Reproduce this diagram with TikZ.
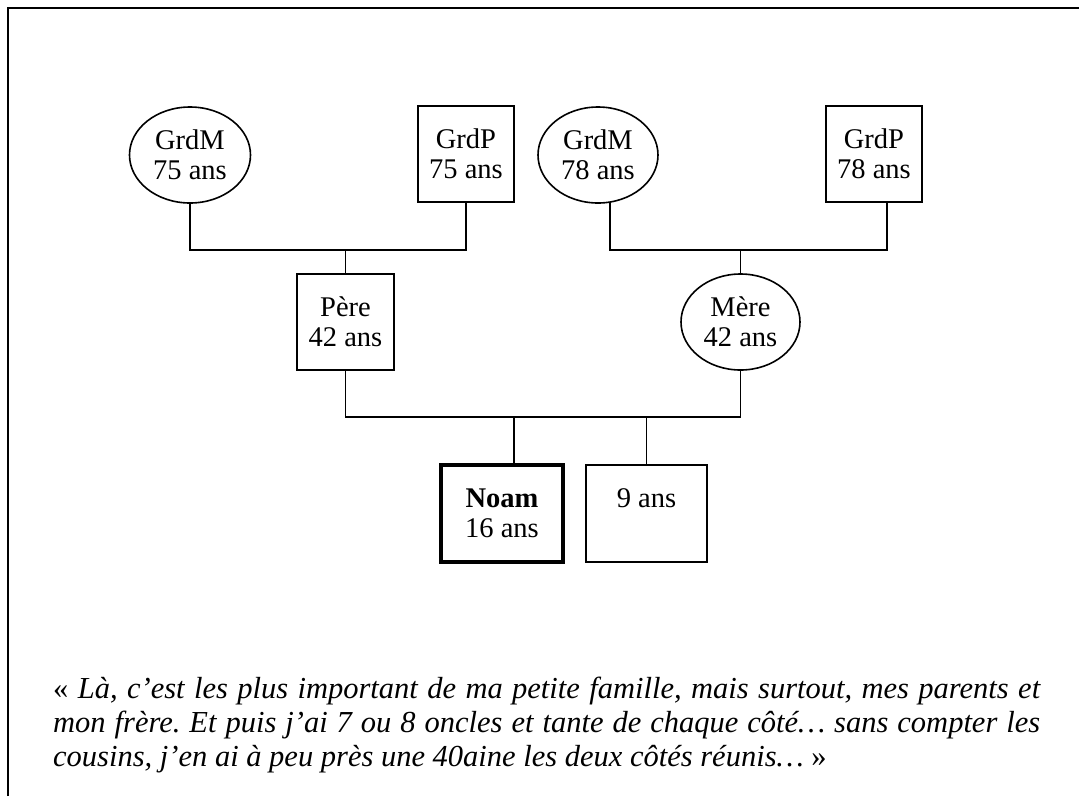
\documentclass[tikz,border=0pt]{standalone}
\usepackage{fontspec}
\setmainfont{Liberation Serif}
\usetikzlibrary{shapes.geometric,calc}
\frenchspacing
\begin{document}
\begin{tikzpicture}[x=1pt,y=-1pt,
  conn/.style={line width=1.6pt},
  person/.style={draw,line width=1.6pt,inner sep=0pt,align=center,font=\fontsize{28.5}{30}\selectfont},
  male/.style={person,rectangle,minimum width=96pt,minimum height=96pt},
  female/.style={person,ellipse,minimum width=121pt,minimum height=96pt},
  quote/.style={anchor=base west,inner sep=0pt,font=\fontsize{30.5}{34}\selectfont\itshape},
]
\useasboundingbox (0,0) rectangle (1079,796);
\draw[line width=2pt] (8,796) -- (8,8) -- (1079,8);

% grandparents
\node[female] (gm1) at (190,155) {GrdM\\75 ans};
\node[male] (gp1) at (466,154) {GrdP\\75 ans};
\node[female,minimum width=120pt] (gm2) at (598,155) {GrdM\\78 ans};
\node[male] (gp2) at (874,154) {GrdP\\78 ans};
% parents
\node[male,minimum width=97pt] (pere) at (345.5,322) {Père\\42 ans};
\node[female,minimum width=119pt] (mere) at (740.5,322) {Mère\\42 ans};
% children
\node[male,minimum width=122pt,minimum height=97pt,line width=3.2pt] (noam) at (502,513.5) {\textbf{Noam}\\16 ans};
\node[male,minimum width=121pt,minimum height=97pt] (frere) at (646.5,513.5) {9 ans\\\phantom{16 ans}};

% bars
\coordinate (bar1) at (0,250);
\coordinate (bar2) at (0,417);
\coordinate (gm2d) at ($(gm2.center)+(12,47)$);
\coordinate (gp2d) at ($(gp2.south)+(13,0)$);
\coordinate (noamu) at ($(noam.north)+(12,0)$);

\draw[conn] (gm1.south) -- (gm1.south |- bar1) -- (gp1.south |- bar1) -- (gp1.south);
\draw[conn] (pere.north |- bar1) -- (pere.north);
\draw[conn] (gm2d) -- (gm2d |- bar1) -- (gp2d |- bar1) -- (gp2d);
\draw[conn] (mere.north |- bar1) -- (mere.north);
\draw[conn] (pere.south) -- (pere.south |- bar2) -- (mere.south |- bar2) -- (mere.south);
\draw[conn] (noamu |- bar2) -- (noamu);
\draw[conn] (frere.north |- bar2) -- (frere.north);

% quote
\node[quote] (q1) at (53,698) {\makebox[987pt][s]{{\upshape«}~Là, c’est les plus important de ma petite famille, mais surtout, mes parents et}};
\node[quote] (q2) at (53,732) {\makebox[987pt][s]{mon frère. Et puis j’ai 7 ou 8 oncles et tante de chaque côté… sans compter les}};
\node[quote] (q3) at (53,766) {cousins, j’en ai à peu près une 40aine les deux côtés réunis…~{\upshape»}};
\end{tikzpicture}
\end{document}
